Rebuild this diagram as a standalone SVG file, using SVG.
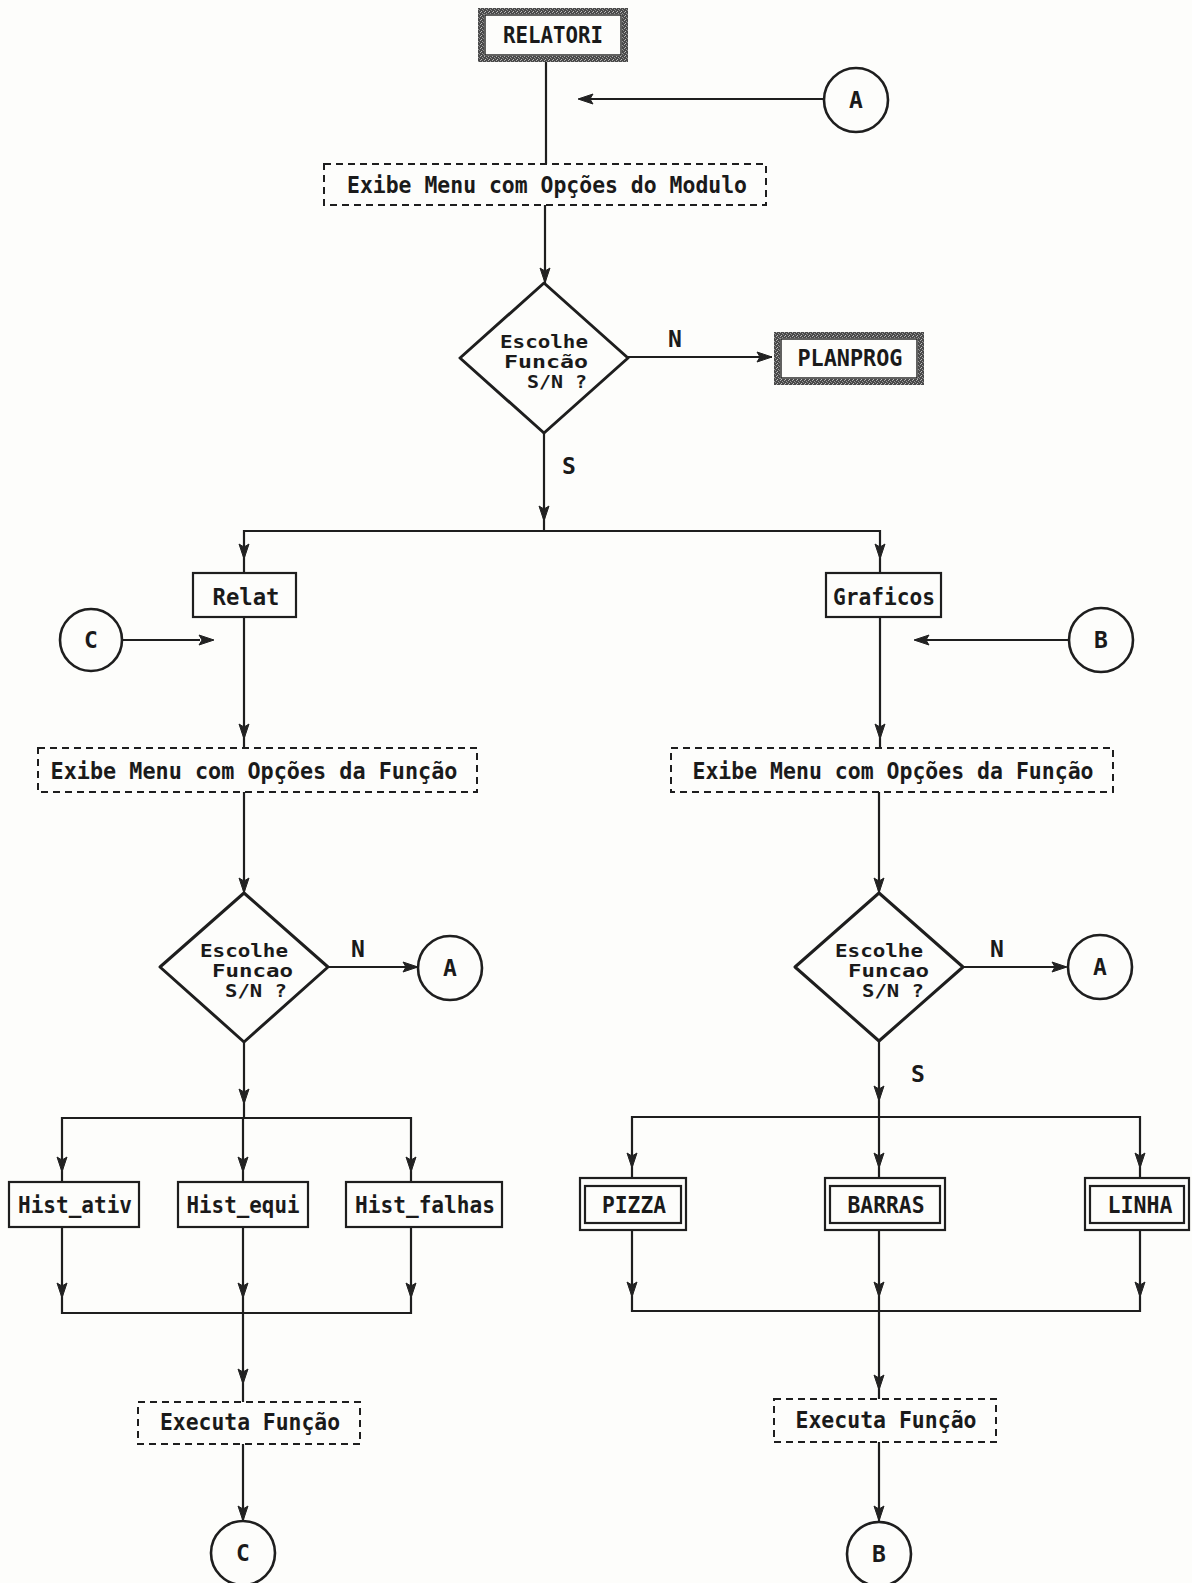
<svg xmlns="http://www.w3.org/2000/svg" width="1192" height="1583" viewBox="0 0 1192 1583">
  <defs>
    <style>
      .ln { fill: none; stroke: #1e1e1e; stroke-width: 2.2; }
      .box { fill: #fdfdfb; stroke: #1e1e1e; stroke-width: 2.2; }
      .dash { fill: #fdfdfb; stroke: #1e1e1e; stroke-width: 2; stroke-dasharray: 7 5; }
      .dia { fill: #fdfdfb; stroke: #1e1e1e; stroke-width: 3; stroke-linejoin: round; }
      .con { fill: #fdfdfb; stroke: #1e1e1e; stroke-width: 2.6; }
      .ah { fill: #222; stroke: #222; stroke-width: 1; stroke-linejoin: round; }
      text { font-family: "DejaVu Sans Mono", "Liberation Mono", monospace; font-weight: bold; font-size: 23px; fill: #1a1a1a; }
      .mid { text-anchor: middle; }
      .dt { font-size: 17px; }
    </style>
    <!-- grainy grey band used for the module (terminal) boxes -->
    <pattern id="grain" width="4" height="4" patternUnits="userSpaceOnUse">
      <rect width="4" height="4" fill="#4a4a4a"/>
      <rect x="0" y="0" width="1" height="1" fill="#b0b0b0"/>
      <rect x="2" y="1" width="1" height="1" fill="#9a9a9a"/>
      <rect x="1" y="3" width="1" height="1" fill="#c0c0c0"/>
      <rect x="3" y="2" width="1" height="1" fill="#8a8a8a"/>
    </pattern>
    <!-- arrowhead pointing down, tip at the origin -->
    <path id="ah" class="ah" d="M0,0 L-5,-15 L0,-12 L5,-15 Z"/>
  </defs>

  <rect width="1192" height="1583" fill="#fdfdfb"/>

  <!-- connectors -->
  <g id="connectors">
    <!-- top flow -->
    <line class="ln" x1="546" y1="62" x2="546" y2="164"/>
    <line class="ln" x1="580" y1="99" x2="824" y2="99"/>
    <use href="#ah" transform="translate(578,99) rotate(90)"/>
    <line class="ln" x1="545" y1="205" x2="545" y2="283"/>
    <use href="#ah" transform="translate(545,283)"/>
    <line class="ln" x1="628" y1="357" x2="772" y2="357"/>
    <use href="#ah" transform="translate(772,357) rotate(-90)"/>
    <line class="ln" x1="544" y1="433" x2="544" y2="531"/>
    <use href="#ah" transform="translate(544,521)"/>
    <polyline class="ln" points="244,573 244,531 880,531 880,573"/>
    <use href="#ah" transform="translate(244,559)"/>
    <use href="#ah" transform="translate(880,559)"/>

    <!-- left column: Relat -->
    <line class="ln" x1="122" y1="640" x2="200" y2="640"/>
    <use href="#ah" transform="translate(214,640) rotate(-90)"/>
    <line class="ln" x1="244" y1="617" x2="244" y2="748"/>
    <use href="#ah" transform="translate(244,739)"/>
    <line class="ln" x1="244" y1="792" x2="244" y2="893"/>
    <use href="#ah" transform="translate(244,893)"/>
    <line class="ln" x1="328" y1="967" x2="417" y2="967"/>
    <use href="#ah" transform="translate(418,967) rotate(-90)"/>
    <line class="ln" x1="244" y1="1042" x2="244" y2="1118"/>
    <use href="#ah" transform="translate(244,1104)"/>
    <polyline class="ln" points="62,1182 62,1118 411,1118 411,1182"/>
    <line class="ln" x1="243" y1="1118" x2="243" y2="1182"/>
    <use href="#ah" transform="translate(62,1172)"/>
    <use href="#ah" transform="translate(243,1172)"/>
    <use href="#ah" transform="translate(411,1172)"/>
    <polyline class="ln" points="62,1227 62,1313 411,1313 411,1227"/>
    <line class="ln" x1="243" y1="1227" x2="243" y2="1402"/>
    <use href="#ah" transform="translate(62,1298)"/>
    <use href="#ah" transform="translate(243,1298)"/>
    <use href="#ah" transform="translate(411,1298)"/>
    <use href="#ah" transform="translate(243,1384)"/>
    <line class="ln" x1="243" y1="1444" x2="243" y2="1521"/>
    <use href="#ah" transform="translate(243,1521)"/>

    <!-- right column: Graficos -->
    <line class="ln" x1="916" y1="640" x2="1069" y2="640"/>
    <use href="#ah" transform="translate(914,640) rotate(90)"/>
    <line class="ln" x1="880" y1="617" x2="880" y2="748"/>
    <use href="#ah" transform="translate(880,739)"/>
    <line class="ln" x1="879" y1="792" x2="879" y2="893"/>
    <use href="#ah" transform="translate(879,893)"/>
    <line class="ln" x1="963" y1="967" x2="1066" y2="967"/>
    <use href="#ah" transform="translate(1067,967) rotate(-90)"/>
    <line class="ln" x1="879" y1="1041" x2="879" y2="1117"/>
    <use href="#ah" transform="translate(879,1101)"/>
    <polyline class="ln" points="632,1178 632,1117 1140,1117 1140,1178"/>
    <line class="ln" x1="879" y1="1117" x2="879" y2="1178"/>
    <use href="#ah" transform="translate(632,1168)"/>
    <use href="#ah" transform="translate(879,1168)"/>
    <use href="#ah" transform="translate(1140,1168)"/>
    <polyline class="ln" points="632,1230 632,1311 1140,1311 1140,1230"/>
    <line class="ln" x1="879" y1="1230" x2="879" y2="1399"/>
    <use href="#ah" transform="translate(632,1297)"/>
    <use href="#ah" transform="translate(879,1297)"/>
    <use href="#ah" transform="translate(1140,1297)"/>
    <use href="#ah" transform="translate(879,1390)"/>
    <line class="ln" x1="879" y1="1442" x2="879" y2="1521"/>
    <use href="#ah" transform="translate(879,1521)"/>

    <!-- branch labels -->
    <text class="mid" x="675" y="347">N</text>
    <text class="mid" x="569" y="474">S</text>
    <text class="mid" x="358" y="957">N</text>
    <text class="mid" x="997" y="957">N</text>
    <text class="mid" x="918" y="1082">S</text>
  </g>

  <!-- module entry -->
  <g id="relatori">
    <rect x="481" y="11" width="144" height="48" fill="#fdfdfb" stroke="url(#grain)" stroke-width="6"/>
    <rect x="485" y="15" width="136" height="40" fill="none" stroke="#1e1e1e" stroke-width="1.4"/>
    <text class="mid" x="553" y="43" textLength="100" lengthAdjust="spacingAndGlyphs">RELATORI</text>
  </g>

  <g id="conn-a-top">
    <circle class="con" cx="856" cy="100" r="32"/>
    <text class="mid" x="856" y="108">A</text>
  </g>

  <g id="menu-modulo">
    <rect class="dash" x="324" y="164" width="442" height="41"/>
    <text class="mid" x="547" y="193" textLength="400" lengthAdjust="spacingAndGlyphs">Exibe Menu com Opções do Modulo</text>
  </g>

  <g id="decide-modulo">
    <polygon class="dia" points="544,283 628,358 544,433 460,358"/>
    <text class="dt" x="500" y="348" textLength="88" lengthAdjust="spacingAndGlyphs">Escolhe</text>
    <text class="dt" x="504" y="368" textLength="84" lengthAdjust="spacingAndGlyphs">Funcão</text>
    <text class="dt" x="527" y="388" textLength="60" lengthAdjust="spacingAndGlyphs">S/N ?</text>
  </g>

  <g id="planprog">
    <rect x="777" y="335" width="144" height="47" fill="#fdfdfb" stroke="url(#grain)" stroke-width="6"/>
    <rect x="781" y="339" width="136" height="39" fill="none" stroke="#1e1e1e" stroke-width="1.4"/>
    <text class="mid" x="850" y="366" textLength="105" lengthAdjust="spacingAndGlyphs">PLANPROG</text>
  </g>

  <!-- reports branch -->
  <g id="relat">
    <rect class="box" x="193" y="573" width="103" height="44"/>
    <text class="mid" x="246" y="605" textLength="67" lengthAdjust="spacingAndGlyphs">Relat</text>
  </g>

  <g id="conn-c-in">
    <circle class="con" cx="91" cy="640" r="31"/>
    <text class="mid" x="91" y="648">C</text>
  </g>

  <g id="menu-relat">
    <rect class="dash" x="38" y="748" width="439" height="44"/>
    <text class="mid" x="254" y="779" textLength="407" lengthAdjust="spacingAndGlyphs">Exibe Menu com Opções da Função</text>
  </g>

  <g id="decide-relat">
    <polygon class="dia" points="244,893 328,967 244,1042 160,967"/>
    <text class="dt" x="200" y="957" textLength="88" lengthAdjust="spacingAndGlyphs">Escolhe</text>
    <text class="dt" x="212" y="977" textLength="81" lengthAdjust="spacingAndGlyphs">Funcao</text>
    <text class="dt" x="225" y="997" textLength="62" lengthAdjust="spacingAndGlyphs">S/N ?</text>
  </g>

  <g id="conn-a-left">
    <circle class="con" cx="450" cy="968" r="32"/>
    <text class="mid" x="450" y="976">A</text>
  </g>

  <g id="hist-ativ">
    <rect class="box" x="9" y="1182" width="130" height="45"/>
    <text class="mid" x="75" y="1213" textLength="114" lengthAdjust="spacingAndGlyphs">Hist_ativ</text>
  </g>
  <g id="hist-equi">
    <rect class="box" x="178" y="1182" width="130" height="45"/>
    <text class="mid" x="243" y="1213" textLength="113" lengthAdjust="spacingAndGlyphs">Hist_equi</text>
  </g>
  <g id="hist-falhas">
    <rect class="box" x="346" y="1182" width="156" height="45"/>
    <text class="mid" x="425" y="1213" textLength="140" lengthAdjust="spacingAndGlyphs">Hist_falhas</text>
  </g>

  <g id="executa-relat">
    <rect class="dash" x="138" y="1402" width="222" height="42"/>
    <text class="mid" x="250" y="1430" textLength="180" lengthAdjust="spacingAndGlyphs">Executa Função</text>
  </g>

  <g id="conn-c-out">
    <circle class="con" cx="243" cy="1553" r="32"/>
    <text class="mid" x="243" y="1561">C</text>
  </g>

  <!-- charts branch -->
  <g id="graficos">
    <rect class="box" x="826" y="573" width="115" height="44"/>
    <text class="mid" x="884" y="605" textLength="102" lengthAdjust="spacingAndGlyphs">Graficos</text>
  </g>

  <g id="conn-b-in">
    <circle class="con" cx="1101" cy="640" r="32"/>
    <text class="mid" x="1101" y="648">B</text>
  </g>

  <g id="menu-graficos">
    <rect class="dash" x="671" y="748" width="442" height="44"/>
    <text class="mid" x="893" y="779" textLength="401" lengthAdjust="spacingAndGlyphs">Exibe Menu com Opções da Função</text>
  </g>

  <g id="decide-graficos">
    <polygon class="dia" points="879,893 963,967 879,1041 795,967"/>
    <text class="dt" x="835" y="957" textLength="88" lengthAdjust="spacingAndGlyphs">Escolhe</text>
    <text class="dt" x="848" y="977" textLength="81" lengthAdjust="spacingAndGlyphs">Funcao</text>
    <text class="dt" x="862" y="997" textLength="62" lengthAdjust="spacingAndGlyphs">S/N ?</text>
  </g>

  <g id="conn-a-right">
    <circle class="con" cx="1100" cy="967" r="32"/>
    <text class="mid" x="1100" y="975">A</text>
  </g>

  <g id="pizza">
    <rect class="box" x="580" y="1178" width="106" height="52"/>
    <rect class="box" x="585" y="1186" width="96" height="37" stroke-width="2"/>
    <text class="mid" x="634" y="1213" textLength="64" lengthAdjust="spacingAndGlyphs">PIZZA</text>
  </g>
  <g id="barras">
    <rect class="box" x="825" y="1178" width="120" height="52"/>
    <rect class="box" x="830" y="1186" width="110" height="37" stroke-width="2"/>
    <text class="mid" x="886" y="1213" textLength="77" lengthAdjust="spacingAndGlyphs">BARRAS</text>
  </g>
  <g id="linha">
    <rect class="box" x="1085" y="1178" width="104" height="52"/>
    <rect class="box" x="1090" y="1186" width="94" height="37" stroke-width="2"/>
    <text class="mid" x="1140" y="1213" textLength="65" lengthAdjust="spacingAndGlyphs">LINHA</text>
  </g>

  <g id="executa-graficos">
    <rect class="dash" x="774" y="1399" width="222" height="43"/>
    <text class="mid" x="886" y="1428" textLength="181" lengthAdjust="spacingAndGlyphs">Executa Função</text>
  </g>

  <g id="conn-b-out">
    <circle class="con" cx="879" cy="1554" r="32"/>
    <text class="mid" x="879" y="1562">B</text>
  </g>
</svg>
